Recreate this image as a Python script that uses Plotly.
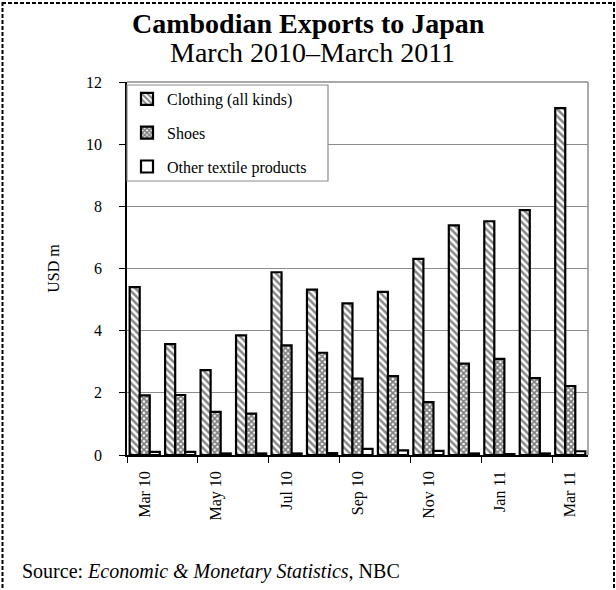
import plotly.graph_objects as go

months = ["Mar 10", "Apr 10", "May 10", "Jun 10", "Jul 10", "Aug 10", "Sep 10",
          "Oct 10", "Nov 10", "Dec 10", "Jan 11", "Feb 11", "Mar 11"]
clothing = [5.40, 3.57, 2.73, 3.85, 5.88, 5.32, 4.88, 5.25, 6.31, 7.39, 7.52, 7.88, 11.16]
shoes = [1.92, 1.93, 1.39, 1.33, 3.53, 3.29, 2.46, 2.54, 1.70, 2.94, 3.09, 2.47, 2.22]
other = [0.10, 0.10, 0.05, 0.05, 0.05, 0.06, 0.20, 0.15, 0.13, 0.05, 0.03, 0.05, 0.12]

FONT = "Liberation Serif"
W, H = 616, 590
ML, MR, MT, MB = 127, 28, 82, 135
PW, PH = W - ML - MR, H - MT - MB


def px_x(x):
    """Canvas pixel x -> paper fraction."""
    return (x - ML) / PW


def px_y(y):
    """Canvas pixel y -> paper fraction."""
    return (MT + PH - y) / PH


fig = go.Figure()
fig.add_trace(go.Bar(
    x=months, y=clothing, name="Clothing (all kinds)", legendgroup="c",
    marker=dict(color="white", line=dict(color="black", width=2.2),
                pattern=dict(shape="\\", fgcolor="#111", bgcolor="white",
                             size=5, solidity=0.5)),
))
fig.add_trace(go.Bar(
    x=months, y=shoes, name="Shoes", legendgroup="s",
    marker=dict(color="white", line=dict(color="black", width=2.2),
                pattern=dict(shape="x", fgcolor="#000", bgcolor="white",
                             size=4, solidity=0.7)),
))
fig.add_trace(go.Bar(
    x=months, y=other, name="Other textile products", legendgroup="o",
    marker=dict(color="white", line=dict(color="black", width=2.2)),
))

GREY = "#8c8c8c"
DASH = dict(color="black", width=2, dash="4px,2px")
shapes = [
    # plot frame (top and right edges in grey)
    dict(type="line", xref="paper", yref="paper", x0=1, x1=1, y0=0, y1=1,
         line=dict(color=GREY, width=1.5), layer="below"),
    dict(type="line", xref="paper", yref="paper", x0=0, x1=1, y0=1, y1=1,
         line=dict(color=GREY, width=1.5), layer="below"),
    # legend box, drawn over gridlines and the axis line
    dict(type="rect", xref="paper", yref="paper", layer="above",
         x0=px_x(127), x1=px_x(328), y0=px_y(181), y1=px_y(85),
         line=dict(color=GREY, width=1.2), fillcolor="white"),
    # dashed outer border (top, left, right)
    dict(type="line", xref="paper", yref="paper",
         x0=px_x(2), x1=px_x(614), y0=px_y(3), y1=px_y(3), line=DASH),
    dict(type="line", xref="paper", yref="paper",
         x0=px_x(2.5), x1=px_x(2.5), y0=px_y(2), y1=px_y(H + 2), line=DASH),
    dict(type="line", xref="paper", yref="paper",
         x0=px_x(614), x1=px_x(614), y0=px_y(2), y1=px_y(H + 2), line=DASH),
]

fig.update_layout(
    width=W, height=H,
    margin=dict(l=ML, r=MR, t=MT, b=MB),
    paper_bgcolor="white", plot_bgcolor="white",
    font=dict(family=FONT, size=16, color="black"),
    barmode="group", bargap=0.15, bargroupgap=0,
    showlegend=True,
    legend=dict(x=0.0, y=1, xanchor="left", yanchor="top",
                bgcolor="rgba(0,0,0,0)", borderwidth=0,
                font=dict(family=FONT, size=16), tracegroupgap=10,
                itemwidth=30),
    xaxis=dict(type="category", tickmode="linear", tick0=0, dtick=2,
               tickson="boundaries", ticks="outside", ticklen=6,
               tickcolor="black", tickangle=-90, showgrid=False,
               showline=True, linecolor="black", linewidth=1.5,
               tickfont=dict(family=FONT, size=16), ticklabelstandoff=8),
    yaxis=dict(range=[0, 12], dtick=2, showgrid=True, gridcolor=GREY,
               gridwidth=1, showline=True, linecolor="black", linewidth=1.5,
               ticks="outside", ticklen=6, tickcolor="black",
               tickfont=dict(family=FONT, size=16), ticklabelstandoff=14,
               zeroline=False,
               title=dict(text="USD m", font=dict(family=FONT, size=16),
                          standoff=22)),
    shapes=shapes,
    annotations=[
        dict(text="<b>Cambodian Exports to Japan</b>", xref="paper", yref="paper",
             x=px_x(308), y=px_y(24), showarrow=False,
             font=dict(family=FONT, size=28), xanchor="center", yanchor="middle"),
        dict(text="March 2010\u2013March 2011", xref="paper", yref="paper",
             x=px_x(312), y=px_y(53), showarrow=False,
             font=dict(family=FONT, size=28), xanchor="center", yanchor="middle"),
        dict(text="Source: <i>Economic &amp; Monetary Statistics,</i> NBC",
             xref="paper", yref="paper", x=px_x(20), y=px_y(571),
             showarrow=False, font=dict(family=FONT, size=20),
             xanchor="left", yanchor="middle"),
    ],
)

fig.write_html("out.html")
